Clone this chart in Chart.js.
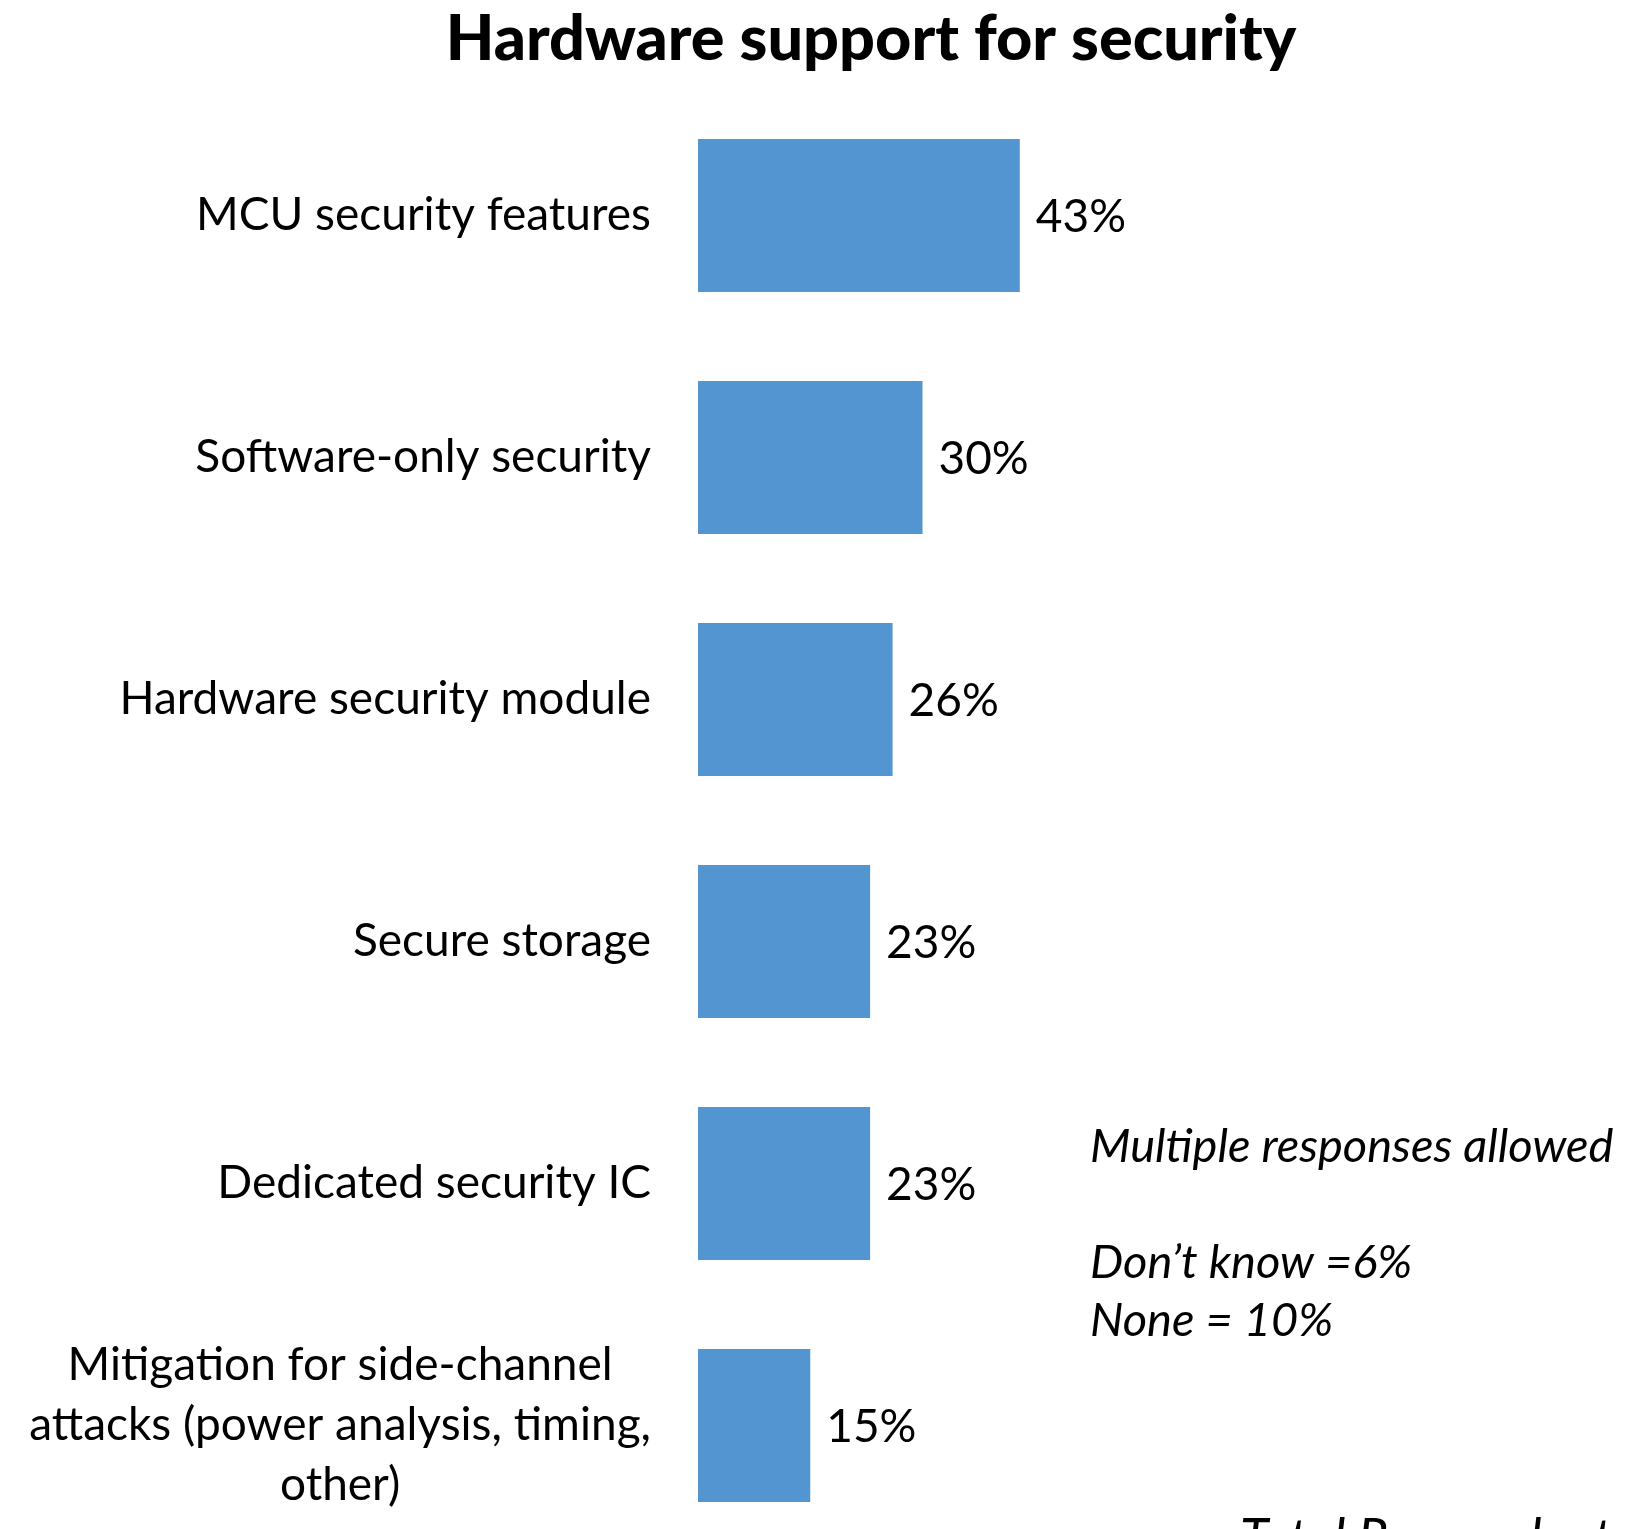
<!DOCTYPE html>
<html>
<head>
<meta charset="utf-8">
<title>Hardware support for security</title>
<script src="https://cdn.jsdelivr.net/npm/chart.js@4.4.1/dist/chart.umd.min.js"></script>
<style>
  html, body { margin: 0; padding: 0; background: #fff; overflow: hidden; }
  #wrap { width: 1652px; height: 1600px; }
</style>
</head>
<body>
<div id="wrap"><canvas id="chart"></canvas></div>
<script>
// survey answers, top to bottom
const categories = [
  ['MCU security features'],
  ['Software-only security'],
  ['Hardware security module'],
  ['Secure storage'],
  ['Dedicated security IC'],
  ['Mitigation for side-channel', 'attacks (power analysis, timing,', 'other)']
];
const shares = [43, 30, 26, 23, 23, 15];
const notes = ['Multiple responses allowed', '', 'Don\u2019t know =6%', 'None = 10%'];
const chartTitle = 'Hardware support for security';
const footer = 'Total Respondents';

const FONT = 'Lato, "Open Sans", sans-serif';
const LABEL_SIZE = 46;
const BAR_COLOR = '#5295d0';

// heading, centred a little right of the page middle
const heading = {
  id: 'heading',
  afterDraw(chart) {
    const ctx = chart.ctx;
    ctx.save();
    ctx.font = `900 63px ${FONT}`;
    ctx.fillStyle = '#000';
    ctx.textAlign = 'center';
    ctx.textBaseline = 'middle';
    ctx.fillText(chartTitle, 871, 40);
    ctx.restore();
  }
};

// category names, right aligned as a block, each line centred inside it
const categoryLabels = {
  id: 'categoryLabels',
  afterDraw(chart) {
    const ctx = chart.ctx;
    const y = chart.scales.y;
    const right = chart.chartArea.left - 47;
    const lineH = 60;
    ctx.save();
    ctx.font = `${LABEL_SIZE}px ${FONT}`;
    ctx.fillStyle = '#000';
    ctx.textBaseline = 'middle';
    ctx.textAlign = 'center';
    categories.forEach((lines, i) => {
      const cy = y.getPixelForValue(i);
      const w = Math.max(...lines.map(l => ctx.measureText(l).width));
      const cx = right - w / 2;
      const top = cy - (lines.length - 1) * lineH / 2;
      lines.forEach((l, j) => ctx.fillText(l, cx, top + j * lineH));
    });
    ctx.restore();
  }
};

// percentage at the end of each bar
const valueLabels = {
  id: 'valueLabels',
  afterDatasetsDraw(chart) {
    const ctx = chart.ctx;
    const meta = chart.getDatasetMeta(0);
    ctx.save();
    ctx.font = `${LABEL_SIZE}px ${FONT}`;
    ctx.fillStyle = '#000';
    ctx.textBaseline = 'middle';
    ctx.textAlign = 'left';
    meta.data.forEach((bar, i) => {
      ctx.fillText(shares[i] + '%', bar.x + 16, bar.y + 2);
    });
    ctx.restore();
  }
};

// side notes and the respondent count running off the bottom edge
const sideNotes = {
  id: 'sideNotes',
  afterDraw(chart) {
    const ctx = chart.ctx;
    ctx.save();
    ctx.font = `italic 47px ${FONT}`;
    ctx.fillStyle = '#000';
    ctx.textBaseline = 'middle';
    ctx.textAlign = 'left';
    notes.forEach((t, i) => ctx.fillText(t, 1090, 1147 + i * 58));
    ctx.textBaseline = 'alphabetic';
    ctx.font = `italic 52px ${FONT}`;
    ctx.fillText(footer, 1240, 1556);
    ctx.restore();
  }
};

new Chart(document.getElementById('chart'), {
  type: 'bar',
  data: {
    labels: categories.map(c => c.join(' ')),
    datasets: [{
      data: shares,
      backgroundColor: BAR_COLOR,
      borderWidth: 0,
      categoryPercentage: 0.632,
      barPercentage: 1
    }]
  },
  options: {
    indexAxis: 'y',
    responsive: true,
    maintainAspectRatio: false,
    animation: false,
    layout: { padding: { left: 595, right: 505, top: 94.5, bottom: 53.5 } },
    scales: {
      x: { display: false, min: 0, max: 60 },
      y: {
        grid: { display: false },
        border: { display: false },
        ticks: { display: false },
        afterFit(scale) { scale.width = 103; }
      }
    },
    plugins: {
      legend: { display: false },
      tooltip: { enabled: false },
      title: { display: false }
    }
  },
  plugins: [heading, categoryLabels, valueLabels, sideNotes]
});
</script>
</body>
</html>
